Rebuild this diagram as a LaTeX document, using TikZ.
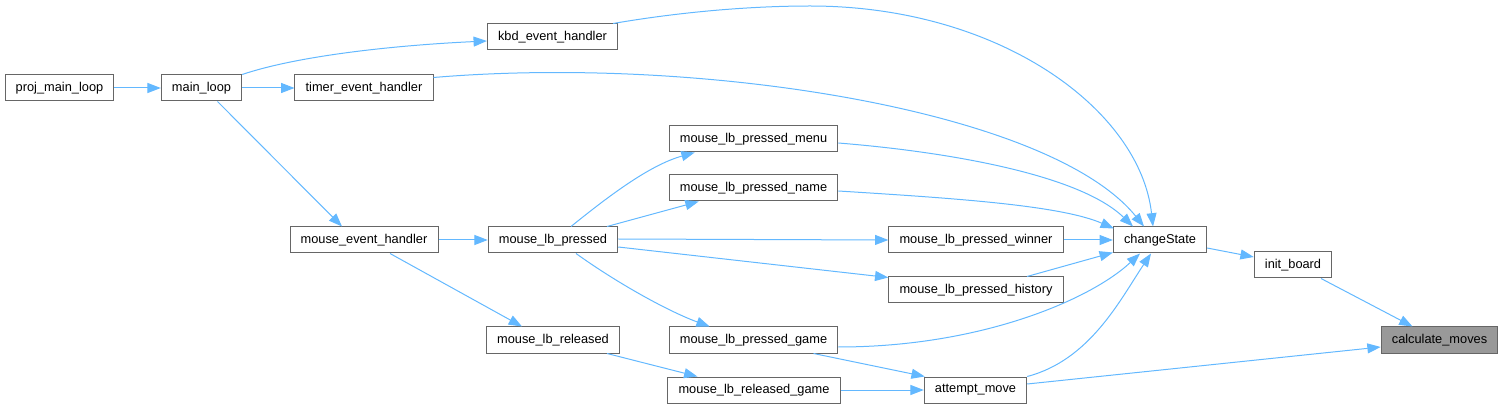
\documentclass[tikz,border=0pt]{standalone}
\usepackage{fontspec}
\setmainfont{Liberation Sans}
\usetikzlibrary{arrows.meta,calc}
\definecolor{edgeblue}{HTML}{63B8FF}
\definecolor{boxline}{HTML}{666666}
\definecolor{curfill}{HTML}{999999}

\begin{document}
\begin{tikzpicture}[x=0.75pt,y=-0.75pt,font=\fontsize{9.6}{11}\selectfont,>={Triangle[length=10pt,width=7.5pt]},
  fn/.style={rectangle,draw=boxline,fill=white,line width=0.75pt,inner xsep=8pt,inner ysep=0pt,minimum height=19.5pt},
  cur/.style={fn,fill=curfill},
  ar/.style={->,draw=edgeblue,line width=0.75pt}]
\useasboundingbox (0,0) rectangle (1505,409);
\node[fn](proj) at (59.5,88){proj\_main\_loop};
\node[fn](main) at (201.5,88){main\_loop};
\node[fn](timer) at (364,88){timer\_event\_handler};
\node[fn](kbd) at (552.5,37){kbd\_event\_handler};
\node[fn](mevh) at (364,240){mouse\_event\_handler};
\node[fn](pressed) at (553,240){mouse\_lb\_pressed};
\node[fn](released) at (553,340){mouse\_lb\_released};
\node[fn](menu) at (753.5,139){mouse\_lb\_pressed\_menu};
\node[fn](name) at (753.5,188){mouse\_lb\_pressed\_name};
\node[fn](winner) at (976,240){mouse\_lb\_pressed\_winner};
\node[fn](history) at (976,290){mouse\_lb\_pressed\_history};
\node[fn](game) at (753.5,340){mouse\_lb\_pressed\_game};
\node[fn](relgame) at (754,390){mouse\_lb\_released\_game};
\node[fn](attempt) at (975.5,390){attempt\_move};
\node[fn](change) at (1160,240){changeState};
\node[fn](init) at (1293,265){init\_board};
\node[cur](calc) at (1439.5,340){calculate\_moves};
% calls from the main loop
\draw[ar](proj)--(main);
\draw[ar](main)--(timer);
\draw[ar](main.north east) .. controls (300,55) and (400,45) .. ($(kbd.west)+(0,4)$);
\draw[ar]($(main.south)+(16,0)$)--($(mevh.north)+(-22,0)$);
\draw[ar](mevh)--(pressed);
\draw[ar]($(mevh.south)+(26,0)$)--($(released.north)+(-31,0)$);
% mouse handlers
\draw[ar]($(pressed.north)+(18,0)$) .. controls (610,195) and (650,165) .. ($(menu.south west)+(26,0)$);
\draw[ar]($(pressed.north)+(54,0)$)--($(name.south west)+(30,0)$);
\draw[ar]($(pressed.east)+(0,-1)$)--(winner.west);
\draw[ar]($(pressed.east)+(0,7)$)--($(history.north west)+(0,1)$);
\draw[ar]($(pressed.south)+(23,0)$) .. controls (620,285) and (670,312) .. ($(game.north west)+(41,0)$);
\draw[ar]($(released.south)+(54,0)$)--($(relgame.north west)+(30,0)$);
\draw[ar]($(game.south)+(60,0)$)--($(attempt.north west)+(1,0)$);
\draw[ar](relgame)--(attempt);
% into changeState
\draw[ar]($(kbd.north east)+(-5,0)$) .. controls (680,12) and (750,6) .. (810,6) .. controls (1000,6) and (1140,110) .. ($(change.north)+(-7,0)$);
\draw[ar]($(timer.north east)+(0,3)$) .. controls (700,55) and (1050,110) .. ($(change.north)+(-16,0)$);
\draw[ar]($(menu.east)+(0,4)$) .. controls (950,152) and (1080,175) .. ($(change.north)+(-27,0)$);
\draw[ar]($(name.east)+(0,3)$) .. controls (950,198) and (1060,205) .. ($(change.north west)+(1,2)$);
\draw[ar](winner)--(change);
\draw[ar]($(history.north)+(51,0)$)--($(change.south west)+(0,-1)$);
\draw[ar]($(game.east)+(0,7)$) .. controls (980,347) and (1090,300) .. ($(change.south)+(-20,0)$);
\draw[ar](attempt.north east) .. controls (1090,360) and (1120,300) .. ($(change.south)+(-9,0)$);
% down to calculate_moves
\draw[ar]($(change.east)+(0,8)$)--($(init.west)+(0,-8)$);
\draw[ar]($(init.south)+(28,0)$)--($(calc.north)+(-27,0)$);
\draw[ar]($(attempt.east)+(0,-6)$)--($(calc.west)+(0,7)$);
\end{tikzpicture}
\end{document}
